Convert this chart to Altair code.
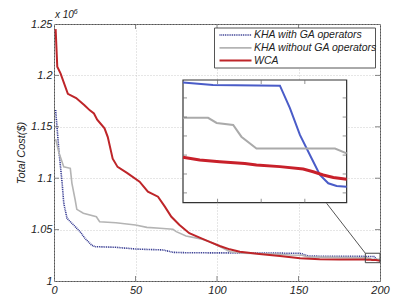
import altair as alt
import pandas as pd

# ---------------- data ----------------
series_names = ["KHA with GA operators", "KHA without GA operators", "WCA"]

blue_iter = [1, 3, 5, 6, 8, 12, 16, 19, 23, 25, 38, 50, 67, 73, 81, 150, 152, 156,
             191, 192.65, 196.33, 196.88, 197.43, 198.07, 198.53, 198.99, 199.45, 200]
blue_cost = [1.1663, 1.127, 1.095, 1.0756, 1.061, 1.0545, 1.048, 1.0415, 1.035, 1.0334,
             1.0328, 1.0311, 1.0302, 1.0279, 1.0275, 1.0270, 1.0265, 1.0242,
             1.0239, 1.0238, 1.02377, 1.02285, 1.02176, 1.02081, 1.02013, 1.01979,
             1.01968, 1.01965]

gray_iter = [1, 3, 6, 10, 11, 13, 14, 18, 26, 28, 38, 50, 57, 65, 73, 75, 81, 90, 96,
             102, 108, 116, 136, 145, 152, 156,
             191, 192.38, 192.85, 193.76, 194.21, 195.04, 199.36, 200]
gray_cost = [1.138, 1.125, 1.111, 1.1096, 1.095, 1.0788, 1.0697, 1.0659, 1.0625, 1.0577,
             1.0567, 1.0545, 1.0522, 1.0513, 1.0503, 1.048, 1.0438, 1.041, 1.038,
             1.0334, 1.0285, 1.027, 1.0263, 1.0253, 1.0250, 1.0235,
             1.02246, 1.02246, 1.02225, 1.02217, 1.02169, 1.02121, 1.02121, 1.02101]

red_iter = [1, 2, 4, 8.5, 13.6, 18.7, 22, 24.5, 26.5, 31, 33, 36, 39, 45, 52.5, 57.6,
            63.8, 68, 72, 77, 83, 89, 95.5, 101.7, 107.8, 114, 126, 138.6, 151, 163, 175,
            191, 191.92, 193.02, 194.40, 195.04, 196.33, 197.61, 198.16, 198.71, 199.27, 200]
red_cost = [1.245, 1.2085, 1.202, 1.182, 1.178, 1.171, 1.166, 1.163, 1.157, 1.1485,
            1.140, 1.119, 1.111, 1.105, 1.0966, 1.0869, 1.082, 1.0723, 1.0625, 1.0545,
            1.0465, 1.0425, 1.038, 1.034, 1.0308, 1.0285, 1.0263, 1.0243, 1.0222,
            1.0212, 1.0210,
            1.02085, 1.02074, 1.02067, 1.02060, 1.02054, 1.02047, 1.02037, 1.02026,
            1.02013, 1.02003, 1.01996]

x_ticks = [0, 50, 100, 150, 200]
y_ticks = [1.0, 1.05, 1.1, 1.15, 1.2, 1.25]
x_domain = [0, 200]
y_domain = [1.0, 1.25]

# zoomed region (inset)
zoom_x = [191, 200]
zoom_y = [1.019, 1.024]
zoom_box_y = [1.0178, 1.0270]
inset_x_ticks = [192.9, 195.3, 197.7]
inset_y_ticks = [1.0194, 1.02017, 1.02094, 1.02172, 1.02249, 1.02327]
connector_from = [167.25, 1.0756]
connector_to = [191, 1.0270]

colors = ["#31368f", "#b4b4b4", "#be2529"]
inset_colors = ["#4a5cc8", "#aaaaaa", "#c8202a"]

# ---------------- layout ----------------
W, H = 326, 257
FONT = "Liberation Sans"
# where the inset panel sits, in main-axis units
INSET_AT_X = [79.14, 179.54]
INSET_AT_Y = [1.07617, 1.19553]

blue_df = pd.DataFrame({"iter": blue_iter, "cost": blue_cost})
gray_df = pd.DataFrame({"iter": gray_iter, "cost": gray_cost})
red_df = pd.DataFrame({"iter": red_iter, "cost": red_cost})

xs = alt.Scale(domain=x_domain, nice=False, zero=False)
ys = alt.Scale(domain=y_domain, nice=False, zero=False)

x_axis = alt.Axis(values=x_ticks, format="d", labelFont=FONT, labelFontStyle="italic",
                  labelFontSize=11, labelColor="#222", ticks=False, domain=False,
                  grid=True, gridDash=[1, 2], gridColor="#c0c0c0", gridWidth=0.8,
                  labelPadding=3, labelFlush=False, title=None)
y_axis = alt.Axis(values=y_ticks, format="~g", labelFont=FONT, labelFontStyle="italic",
                  labelFontSize=11, labelColor="#222", ticks=False, domain=False,
                  grid=True, gridDash=[1, 2], gridColor="#c0c0c0", gridWidth=0.8,
                  labelPadding=2, labelFlush=False, title="Total Cost($)",
                  titleFont=FONT, titleFontStyle="italic", titleFontSize=11,
                  titleFontWeight="normal", titleColor="#222", titlePadding=4)


def X(field="iter"):
    return alt.X(f"{field}:Q", scale=xs, axis=x_axis)


def Y(field="cost"):
    return alt.Y(f"{field}:Q", scale=ys, axis=y_axis)


def to_inset(ch, xf=("iter",), yf=("cost",)):
    """map inset-domain values to the inset panel position (main-axis units)"""
    calc = {}
    for f in xf:
        calc["i_" + f] = (f"{INSET_AT_X[0]} + (datum.{f} - {zoom_x[0]}) / {zoom_x[1] - zoom_x[0]}"
                          f" * {INSET_AT_X[1] - INSET_AT_X[0]}")
    for f in yf:
        calc["i_" + f] = (f"{INSET_AT_Y[0]} + (datum.{f} - {zoom_y[0]}) / {zoom_y[1] - zoom_y[0]}"
                          f" * {INSET_AT_Y[1] - INSET_AT_Y[0]}")
    return ch.transform_calculate(**calc)


blue_line = alt.Chart(blue_df).mark_line(color=colors[0], strokeWidth=1.6,
                                         strokeDash=[1, 0.8]).encode(x=X(), y=Y())
gray_line = alt.Chart(gray_df).mark_line(color=colors[1], strokeWidth=1.6).encode(x=X(), y=Y())
red_line = alt.Chart(red_df).mark_line(color=colors[2], strokeWidth=2).encode(x=X(), y=Y())

# inside ticks of the main frame
n_x = len(x_ticks) - 2
n_y = len(y_ticks) - 2
xt_bot = pd.DataFrame({"iter": x_ticks[1:-1], "cost": [y_domain[0]] * n_x})
xt_top = pd.DataFrame({"iter": x_ticks[1:-1], "cost": [y_domain[1]] * n_x})
yt_left = pd.DataFrame({"iter": [x_domain[0]] * n_y, "cost": y_ticks[1:-1]})
yt_right = pd.DataFrame({"iter": [x_domain[1]] * n_y, "cost": y_ticks[1:-1]})
tick_style = dict(color="#555", thickness=1, size=5)
frame_ticks = [
    alt.Chart(xt_bot).mark_tick(orient="vertical", yOffset=-2.5, **tick_style).encode(x=X(), y=Y()),
    alt.Chart(xt_top).mark_tick(orient="vertical", yOffset=2.5, **tick_style).encode(x=X(), y=Y()),
    alt.Chart(yt_left).mark_tick(orient="horizontal", xOffset=2.5, **tick_style).encode(x=X(), y=Y()),
    alt.Chart(yt_right).mark_tick(orient="horizontal", xOffset=-2.5, **tick_style).encode(x=X(), y=Y()),
]

# zoom box + connector
box_df = pd.DataFrame({"x": [zoom_x[0]], "x2": [zoom_x[1]], "y": [zoom_box_y[0]], "y2": [zoom_box_y[1]]})
zoom_box = alt.Chart(box_df).mark_rect(fill="white", fillOpacity=0, stroke="#444", strokeWidth=1).encode(
    x=X("x"), x2="x2:Q", y=Y("y"), y2="y2:Q")
conn_df = pd.DataFrame({"x": [connector_from[0]], "y": [connector_from[1]],
                        "x2": [connector_to[0]], "y2": [connector_to[1]]})
connector = alt.Chart(conn_df).mark_rule(color="#555", strokeWidth=1).encode(
    x=X("x"), y=Y("y"), x2="x2:Q", y2="y2:Q")

# ---------------- inset ----------------
frame_df = pd.DataFrame({"x": [zoom_x[0]], "x2": [zoom_x[1]], "y": [zoom_y[0]], "y2": [zoom_y[1]]})
frame = to_inset(alt.Chart(frame_df), xf=("x", "x2"), yf=("y", "y2")).mark_rect(
    fill="white", stroke="#333", strokeWidth=1.2).encode(
    x=X("i_x"), x2="i_x2:Q", y=Y("i_y"), y2="i_y2:Q")

flt = alt.datum.iter >= zoom_x[0]
blue_in = to_inset(alt.Chart(blue_df).transform_filter(flt)).mark_line(
    color=inset_colors[0], strokeWidth=2).encode(x=X("i_iter"), y=Y("i_cost"))
gray_in = to_inset(alt.Chart(gray_df).transform_filter(flt)).mark_line(
    color=inset_colors[1], strokeWidth=2).encode(x=X("i_iter"), y=Y("i_cost"))
red_in = to_inset(alt.Chart(red_df).transform_filter(flt)).mark_line(
    color=inset_colors[2], strokeWidth=3).encode(x=X("i_iter"), y=Y("i_cost"))

nix = len(inset_x_ticks)
niy = len(inset_y_ticks)
ixt_bot = pd.DataFrame({"iter": inset_x_ticks, "cost": [zoom_y[0]] * nix})
ixt_top = pd.DataFrame({"iter": inset_x_ticks, "cost": [zoom_y[1]] * nix})
iyt_left = pd.DataFrame({"iter": [zoom_x[0]] * niy, "cost": inset_y_ticks})
iyt_right = pd.DataFrame({"iter": [zoom_x[1]] * niy, "cost": inset_y_ticks})
itick = dict(color="#666", thickness=1, size=4)
in_ticks = [
    to_inset(alt.Chart(ixt_bot)).mark_tick(orient="vertical", yOffset=-2, **itick).encode(
        x=X("i_iter"), y=Y("i_cost")),
    to_inset(alt.Chart(ixt_top)).mark_tick(orient="vertical", yOffset=2, **itick).encode(
        x=X("i_iter"), y=Y("i_cost")),
    to_inset(alt.Chart(iyt_left)).mark_tick(orient="horizontal", xOffset=2, **itick).encode(
        x=X("i_iter"), y=Y("i_cost")),
    to_inset(alt.Chart(iyt_right)).mark_tick(orient="horizontal", xOffset=-2, **itick).encode(
        x=X("i_iter"), y=Y("i_cost")),
]

one = pd.DataFrame({"a": [0]})

# legend (drawn)
leg_box = alt.Chart(one).mark_rect(fill="white", stroke="#555", strokeWidth=1).encode(
    x=alt.value(160.5), x2=alt.value(321.5), y=alt.value(4), y2=alt.value(44))
legend_layers = [leg_box]
row_y = [11, 23.8, 36.5]
dashes = [[1, 0.8], None, None]
for name, col, dash, ry in zip(series_names, colors, dashes, row_y):
    kw = dict(color=col, strokeWidth=1.6 if dash else 1.8)
    if dash:
        kw["strokeDash"] = dash
    legend_layers.append(alt.Chart(one).mark_rule(**kw).encode(
        x=alt.value(165.5), x2=alt.value(197.5), y=alt.value(ry)))
    legend_layers.append(alt.Chart(one).mark_text(
        align="left", baseline="middle", font=FONT, fontStyle="italic", fontSize=10.5,
        color="#222", text=name).encode(x=alt.value(200), y=alt.value(ry)))

# exponent label
exp_base = alt.Chart(one).mark_text(align="left", baseline="alphabetic", font=FONT,
                                    fontStyle="italic", fontSize=10, color="#222",
                                    text="x 10").encode(x=alt.value(1), y=alt.value(-6))
exp_pow = alt.Chart(one).mark_text(align="left", baseline="alphabetic", font=FONT,
                                   fontStyle="italic", fontSize=7.5, color="#222",
                                   text="6").encode(x=alt.value(19.5), y=alt.value(-10))

chart = alt.layer(
    blue_line, gray_line, red_line, *frame_ticks, zoom_box, connector,
    frame, blue_in, gray_in, red_in, *in_ticks,
    *legend_layers, exp_base, exp_pow,
).properties(
    width=W, height=H,
    autosize=alt.AutoSizeParams(type="none"),
    padding={"left": 54, "top": 24, "right": 40, "bottom": 14},
    background="white",
).configure_view(stroke="#555", strokeWidth=1)

chart.save("out.html", embed_options={"renderer": "svg", "actions": False})
